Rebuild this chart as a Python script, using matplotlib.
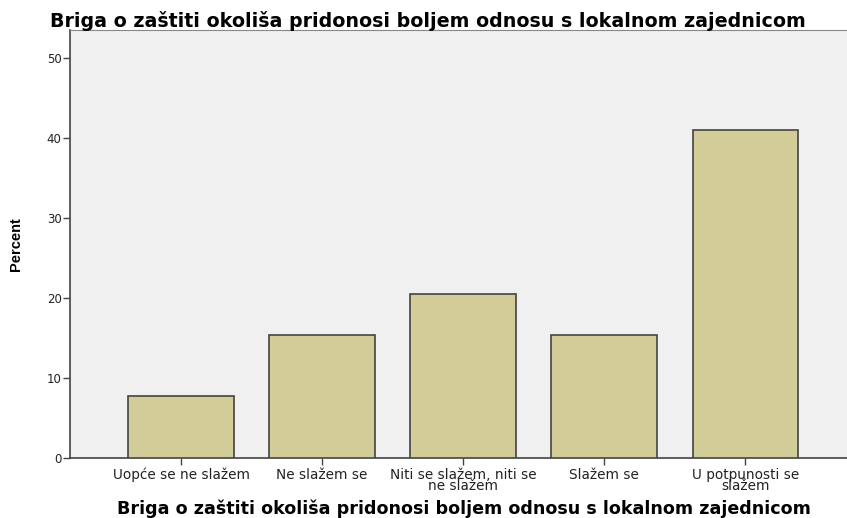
import matplotlib.pyplot as plt
import numpy as np

categories = ["Uopće se ne slažem", "Ne slažem se", "Niti se slažem, niti se\nne slažem",
              "Slažem se", "U potpunosti se\nslažem"]
percent = [7.69, 15.38, 20.51, 15.38, 41.03]
yticks = [0, 10, 20, 30, 40, 50]
title = "Briga o zaštiti okoliša pridonosi boljem odnosu s lokalnom zajednicom"

plt.rcParams['font.family'] = ['DejaVu Sans']

fig = plt.figure(figsize=(8.47, 5.18), dpi=100)
ax = fig.add_axes([70 / 847, 60 / 518, 1 - 70 / 847, 428 / 518])
ax.set_facecolor('#f0f0f0')

x = np.arange(1, len(categories) + 1)
ax.bar(x, percent, width=0.75, color='#d2cd98', edgecolor='#444444', linewidth=1.2, zorder=3)

ax.set_xlim(0.213, 5.72)
ax.set_ylim(0, 53.5)
ax.set_yticks(yticks)
ax.set_xticks(x)
ax.set_xticklabels(categories, fontsize=9.8, linespacing=0.75, color='#222222')
ax.tick_params(axis='y', labelsize=8.5, length=5, width=1, color='#444444', labelcolor='#222222', pad=1)
ax.tick_params(axis='x', length=5, width=1, color='#444444', pad=2)

for side in ['left', 'bottom']:
    ax.spines[side].set_color('#444444')
    ax.spines[side].set_linewidth(1.2)
ax.spines['top'].set_color('#888888')
ax.spines['right'].set_visible(False)

ax.set_ylabel("Percent", fontsize=10.5, fontweight='bold', family='Liberation Sans')
ax.yaxis.set_label_coords(-0.06, 0.5)
fig.text(428 / 847, 1 - 21 / 518, title, ha='center', va='center', fontsize=13.7, fontweight='bold')
fig.text(464 / 847, 1 - 509 / 518, title, ha='center', va='center', fontsize=12.6, fontweight='bold')

fig.savefig('out.png', dpi=100)
